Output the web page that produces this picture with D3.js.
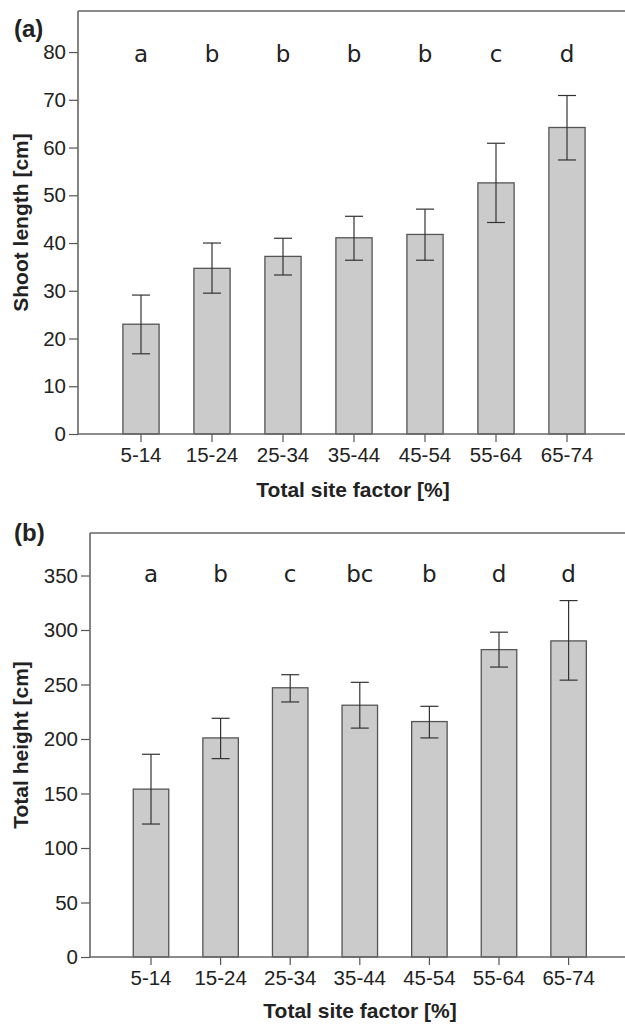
<!DOCTYPE html>
<html>
<head>
<meta charset="utf-8">
<script src="https://cdn.jsdelivr.net/npm/d3@7"></script>
<style>
  body { margin: 0; background: #fff; }
  svg { display: block; }
</style>
</head>
<body>
<div id="viz"></div>
<script>
const width = 625;
const height = 1024;

// site factor classes (same for both panels)
const categories = ['5-14', '15-24', '25-34', '35-44', '45-54', '55-64', '65-74'];

// panel (a): shoot length [cm]
const shootMean  = [23.0, 34.7, 37.2, 41.1, 41.8, 52.6, 64.2];
const shootUpper = [29.1, 40.0, 41.0, 45.6, 47.1, 60.9, 70.9];
const shootLower = [16.8, 29.5, 33.3, 36.4, 36.4, 44.3, 57.4];
const shootLetters = ['a', 'b', 'b', 'b', 'b', 'c', 'd'];
const shootTicks = [0, 10, 20, 30, 40, 50, 60, 70, 80];

// panel (b): total height [cm]
const heightMean  = [154, 201, 247, 231, 216, 282, 290];
const heightUpper = [186, 219, 259, 252, 230, 298, 327];
const heightLower = [122, 182, 234, 210, 201, 266, 254];
const heightLetters = ['a', 'b', 'c', 'bc', 'b', 'd', 'd'];
const heightTicks = [0, 50, 100, 150, 200, 250, 300, 350];

const svg = d3.select('#viz')
  .append('svg')
    .attr('width', width)
    .attr('height', height);

svg.append('rect').attr('width', width).attr('height', height).attr('fill', '#fff');

function drawPanel(opt) {
  const g = svg.append('g');
  const x = d3.scaleBand()
    .domain(categories)
    .range(opt.xRange)
    .paddingInner(0.49)
    .paddingOuter(0.245);
  const y = d3.scaleLinear()
    .domain([0, opt.yMax])
    .range([opt.bottom, opt.top]);

  const rows = categories.map((c, i) => ({
    cat: c, mean: opt.mean[i], hi: opt.upper[i], lo: opt.lower[i], letter: opt.letters[i]
  }));

  // bars
  g.selectAll('rect.bar')
    .data(rows)
    .join('rect')
      .attr('class', 'bar')
      .attr('x', d => x(d.cat))
      .attr('y', d => y(d.mean))
      .attr('width', x.bandwidth())
      .attr('height', d => y(0) - y(d.mean))
      .attr('fill', '#cbcbcb')
      .attr('stroke', '#555')
      .attr('stroke-width', 1.3);

  // error bars
  const cx = d => x(d.cat) + x.bandwidth() / 2;
  const cap = 9;
  const err = g.selectAll('g.err').data(rows).join('g').attr('class', 'err')
    .attr('stroke', '#333').attr('stroke-width', 1.2);
  err.append('line').attr('x1', cx).attr('x2', cx).attr('y1', d => y(d.hi)).attr('y2', d => y(d.lo));
  err.append('line').attr('x1', d => cx(d) - cap).attr('x2', d => cx(d) + cap).attr('y1', d => y(d.hi)).attr('y2', d => y(d.hi));
  err.append('line').attr('x1', d => cx(d) - cap).attr('x2', d => cx(d) + cap).attr('y1', d => y(d.lo)).attr('y2', d => y(d.lo));

  // significance letters
  g.selectAll('text.letter')
    .data(rows)
    .join('text')
      .attr('class', 'letter')
      .attr('x', cx)
      .attr('y', opt.letterY)
      .attr('text-anchor', 'middle')
      .style('font-family', '"DejaVu Sans", sans-serif')
      .style('font-size', '23px')
      .attr('fill', '#222')
      .text(d => d.letter);

  // axes
  const yAxis = g.append('g')
    .attr('transform', `translate(${opt.left},0)`)
    .call(d3.axisLeft(y).tickValues(opt.ticks).tickSize(9).tickPadding(3));
  const xAxis = g.append('g')
    .attr('transform', `translate(0,${opt.bottom})`)
    .call(d3.axisBottom(x).tickSize(8).tickPadding(5));
  [yAxis, xAxis].forEach(a => {
    a.select('.domain').remove();
    a.selectAll('.tick line').attr('stroke', '#555').attr('stroke-width', 1.2);
    a.selectAll('.tick text')
      .style('font-family', '"Liberation Sans", Arial, sans-serif')
      .style('font-size', '20.5px')
      .attr('fill', '#222');
  });

  // frame: left, bottom and top lines
  const frame = g.append('g').attr('stroke', '#666').attr('stroke-width', 1.6);
  frame.append('line').attr('x1', opt.left).attr('x2', opt.left).attr('y1', opt.top).attr('y2', opt.bottom);
  frame.append('line').attr('x1', opt.left).attr('x2', width).attr('y1', opt.bottom).attr('y2', opt.bottom);
  frame.append('line').attr('x1', opt.left).attr('x2', width).attr('y1', opt.top).attr('y2', opt.top);

  // titles
  const bold = t => t.style('font-family', '"Liberation Sans", Arial, sans-serif')
    .style('font-weight', 'bold').style('font-size', '21px').attr('fill', '#222');
  g.append('text')
    .attr('x', opt.xTitleX).attr('y', opt.xTitleY)
    .attr('text-anchor', 'middle')
    .call(bold)
    .text('Total site factor [%]');
  g.append('text')
    .attr('transform', `translate(${opt.yTitleX},${(opt.top + opt.bottom) / 2}) rotate(-90)`)
    .attr('text-anchor', 'middle')
    .call(bold)
    .text(opt.yTitle);
  g.append('text')
    .attr('x', 14).attr('y', opt.labelY)
    .call(bold)
    .style('font-size', '24px')
    .text(opt.label);
}

drawPanel({
  label: '(a)', labelY: 37,
  mean: shootMean, upper: shootUpper, lower: shootLower, letters: shootLetters,
  ticks: shootTicks, yMax: 88.6, yTitle: 'Shoot length [cm]',
  left: 78, top: 11, bottom: 434, xRange: [105.5, 602.5],
  letterY: 62, xTitleX: 353, xTitleY: 497, yTitleX: 28
});

drawPanel({
  label: '(b)', labelY: 541,
  mean: heightMean, upper: heightUpper, lower: heightLower, letters: heightLetters,
  ticks: heightTicks, yMax: 389, yTitle: 'Total height [cm]',
  left: 90, top: 533, bottom: 957, xRange: [116.2, 603.4],
  letterY: 582, xTitleX: 360, xTitleY: 1018, yTitleX: 28
});
</script>
</body>
</html>
